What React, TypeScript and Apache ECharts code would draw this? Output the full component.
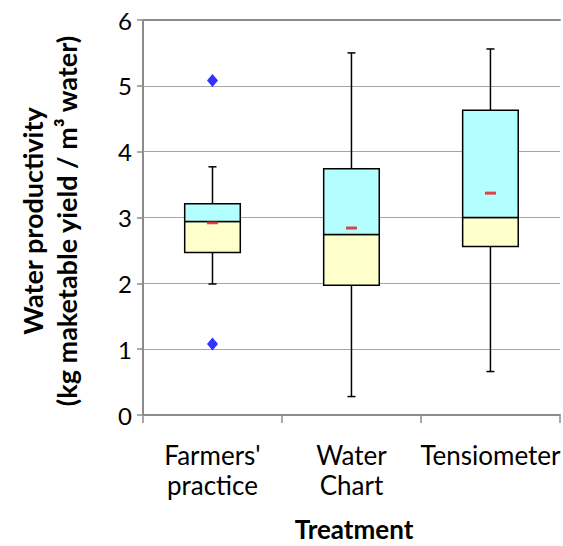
import React, { useEffect, useRef } from "react";
import * as echarts from "echarts";

const categories = ["Farmers'\npractice", "Water\nChart", "Tensiometer"];
const whiskerLow = [1.99, 0.28, 0.66];
const q1 = [2.47, 1.97, 2.56];
const median = [2.94, 2.74, 3.0];
const q3 = [3.21, 3.74, 4.63];
const whiskerHigh = [3.77, 5.5, 5.56];
const means = [2.92, 2.84, 3.37];
const outlierCategory = [0, 0];
const outlierValues = [5.08, 1.08];
const yMin = 0;
const yMax = 6;
const yInterval = 1;

const FONT = "Lato";
const AXIS_GRAY = "#8C8C8C";
const GRID_GRAY = "#A6A6A6";

export default function App() {
  const ref = useRef<HTMLDivElement>(null);

  useEffect(() => {
    document.body.style.margin = "0";
    if (!ref.current) return;
    const chart = echarts.init(ref.current, undefined, { renderer: "svg" });

    const boxData = categories.map((_, i) => [
      i,
      whiskerLow[i],
      q1[i],
      median[i],
      q3[i],
      whiskerHigh[i],
    ]);

    const renderItem = (params: any, api: any) => {
      const idx = api.value(0);
      const pLow = api.coord([idx, api.value(1)]);
      const pQ1 = api.coord([idx, api.value(2)]);
      const pMed = api.coord([idx, api.value(3)]);
      const pQ3 = api.coord([idx, api.value(4)]);
      const pHigh = api.coord([idx, api.value(5)]);
      const band = api.size([1, 0])[0];
      const boxW = band * 0.4;
      const cx = pLow[0];
      const capW = 8;
      const lineStyle = { stroke: "#000", lineWidth: 1.5 };
      return {
        type: "group",
        children: [
          { type: "line", shape: { x1: cx, y1: pQ1[1], x2: cx, y2: pLow[1] }, style: lineStyle },
          { type: "line", shape: { x1: cx - capW / 2, y1: pLow[1], x2: cx + capW / 2, y2: pLow[1] }, style: lineStyle },
          { type: "line", shape: { x1: cx, y1: pQ3[1], x2: cx, y2: pHigh[1] }, style: lineStyle },
          { type: "line", shape: { x1: cx - capW / 2, y1: pHigh[1], x2: cx + capW / 2, y2: pHigh[1] }, style: lineStyle },
          {
            type: "rect",
            shape: { x: cx - boxW / 2, y: pMed[1], width: boxW, height: pQ1[1] - pMed[1] },
            style: { fill: "#FFFFCC", stroke: "#000", lineWidth: 1.5 },
          },
          {
            type: "rect",
            shape: { x: cx - boxW / 2, y: pQ3[1], width: boxW, height: pMed[1] - pQ3[1] },
            style: { fill: "#B3FFFF", stroke: "#000", lineWidth: 1.5 },
          },
        ],
      };
    };

    chart.setOption({
      animation: false,
      grid: { left: 143, top: 20, right: 0, bottom: 131, containLabel: false },
      xAxis: [
        {
          type: "category",
          data: categories,
          boundaryGap: true,
          axisLine: { show: true, lineStyle: { color: AXIS_GRAY, width: 2 } },
          axisTick: { show: true, length: 8, lineStyle: { color: AXIS_GRAY, width: 1.5 } },
          axisLabel: {
            color: "#000",
            fontFamily: FONT,
            fontSize: 26,
            lineHeight: 30,
            margin: 25,
            interval: 0,
            hideOverlap: false,
          },
          splitLine: { show: false },
        },
        {
          type: "category",
          data: categories,
          position: "top",
          axisLine: { show: true, lineStyle: { color: AXIS_GRAY, width: 2 } },
          axisTick: { show: false },
          axisLabel: { show: false },
        },
      ],
      yAxis: {
        type: "value",
        min: yMin,
        max: yMax,
        interval: yInterval,
        axisLine: { show: true, lineStyle: { color: AXIS_GRAY, width: 2 } },
        axisTick: { show: true, length: 6, lineStyle: { color: AXIS_GRAY, width: 1.5 } },
        axisLabel: { color: "#000", fontFamily: FONT, fontSize: 24, margin: 11 },
        splitLine: { show: true, lineStyle: { color: GRID_GRAY, width: 1.2 } },
      },
      graphic: [
        {
          type: "text",
          x: 49,
          y: 221,
          rotation: Math.PI / 2,
          style: {
            text: "Water productivity\n(kg maketable yield / m³ water)",
            font: `bold 27px ${FONT}`,
            fill: "#000",
            textAlign: "center",
            textVerticalAlign: "middle",
            lineHeight: 34,
          },
        },
        {
          type: "text",
          x: 354,
          y: 529,
          style: {
            text: "Treatment",
            font: `bold 26px ${FONT}`,
            fill: "#000",
            textAlign: "center",
            textVerticalAlign: "middle",
          },
        },
      ],
      series: [
        {
          type: "custom",
          renderItem,
          data: boxData,
          encode: { x: 0, y: [1, 2, 3, 4, 5] },
          z: 2,
        },
        {
          type: "scatter",
          data: categories.map((_, i) => [i, means[i]]),
          symbol: "rect",
          symbolSize: [11, 3],
          itemStyle: { color: "#E8141B" },
          z: 3,
        },
        {
          type: "scatter",
          data: outlierCategory.map((c, i) => [c, outlierValues[i]]),
          symbol: "diamond",
          symbolSize: [11, 13],
          itemStyle: { color: "#0000FF" },
          z: 3,
        },
      ],
    });

    return () => chart.dispose();
  }, []);

  return (
    <div
      ref={ref}
      style={{ position: "absolute", left: 0, top: 0, width: 563, height: 546 }}
    />
  );
}
